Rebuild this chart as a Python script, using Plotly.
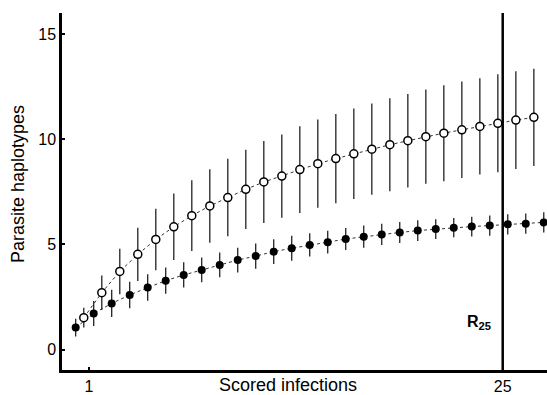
import plotly.graph_objects as go

# ---- data ----
sample_index = list(range(1, 28))
filled_mean = [1.05, 1.72, 2.20, 2.60, 2.95, 3.28, 3.55, 3.79, 4.03, 4.26, 4.45, 4.66, 4.82, 4.98,
               5.11, 5.26, 5.37, 5.48, 5.57, 5.66, 5.73, 5.80, 5.85, 5.90, 5.96, 5.99, 6.05]
filled_err = [0.42, 0.59, 0.65, 0.63, 0.63, 0.62, 0.60, 0.59, 0.59, 0.59, 0.60, 0.59, 0.59, 0.55,
              0.54, 0.52, 0.53, 0.51, 0.50, 0.49, 0.47, 0.46, 0.47, 0.48, 0.48, 0.48, 0.48]

open_offset = 0.45
open_index = [i + open_offset for i in range(1, 27)]
open_mean = [1.52, 2.71, 3.72, 4.53, 5.24, 5.84, 6.37, 6.83, 7.23, 7.62, 7.97, 8.25, 8.56, 8.84,
             9.08, 9.31, 9.53, 9.74, 9.93, 10.12, 10.29, 10.45, 10.61, 10.76, 10.91, 11.04]
open_err = [0.47, 0.82, 1.08, 1.27, 1.46, 1.58, 1.68, 1.75, 1.84, 1.88, 1.95, 1.98, 2.06, 2.10,
            2.12, 2.15, 2.17, 2.21, 2.22, 2.24, 2.28, 2.29, 2.29, 2.33, 2.32, 2.31]

x_tick_vals = [1.74, 24.72]
x_tick_text = ["1", "25"]
y_tick_vals = [0, 5, 10, 15]
r25_x = 24.72

FONT = "Arial, Liberation Sans, sans-serif"

fig = go.Figure()

fig.add_trace(go.Scatter(
    x=sample_index, y=filled_mean, mode="lines+markers",
    line=dict(color="#333", width=1, dash="dot"),
    marker=dict(color="black", size=8, symbol="circle"),
    error_y=dict(type="data", array=filled_err, visible=True, color="#222", thickness=1.3, width=0),
    cliponaxis=False, showlegend=False))

fig.add_trace(go.Scatter(
    x=open_index, y=open_mean, mode="lines+markers",
    line=dict(color="#333", width=1, dash="dot"),
    marker=dict(color="white", size=8, symbol="circle", line=dict(color="black", width=1.5)),
    error_y=dict(type="data", array=open_err, visible=True, color="#222", thickness=1.3, width=0),
    cliponaxis=False, showlegend=False))

fig.add_shape(type="line", xref="x", yref="paper", x0=r25_x, x1=r25_x, y0=0, y1=1,
              line=dict(color="black", width=2.5))

fig.add_annotation(x=r25_x, y=1.3, xref="x", yref="y", text="<b>R<sub>25</sub></b>",
                   showarrow=False, xanchor="right", yanchor="middle", xshift=-10,
                   font=dict(family=FONT, size=16, color="black"))

fig.add_annotation(x=0.466, y=-0.042, xref="paper", yref="paper", text="Scored infections",
                   showarrow=False, xanchor="center", yanchor="middle",
                   font=dict(family=FONT, size=18, color="black"))

fig.add_annotation(x=-0.0907, y=0.521, xref="paper", yref="paper", text="Parasite haplotypes",
                   showarrow=False, xanchor="center", yanchor="middle", textangle=-90,
                   font=dict(family=FONT, size=18, color="black"))

fig.update_layout(
    width=547, height=395,
    margin=dict(l=62, r=0, t=13, b=25),
    paper_bgcolor="white", plot_bgcolor="white",
    font=dict(family=FONT, size=16, color="black"),
    xaxis=dict(range=[0.24, 27.18], showgrid=False, zeroline=False,
               showline=True, linecolor="black", linewidth=2.5,
               tickmode="array", tickvals=x_tick_vals, ticktext=x_tick_text,
               ticks="inside", ticklen=3, tickwidth=1.5, tickcolor="black"),
    yaxis=dict(range=[-0.965, 16.0], showgrid=False, zeroline=False,
               showline=True, linecolor="black", linewidth=2.5,
               tickmode="array", tickvals=y_tick_vals,
               ticks="inside", ticklen=3, tickwidth=1.5, tickcolor="black"),
)

fig.write_html("out.html", config={"displayModeBar": False},
               post_script="document.body.style.margin='0';document.body.style.overflow='hidden';")
